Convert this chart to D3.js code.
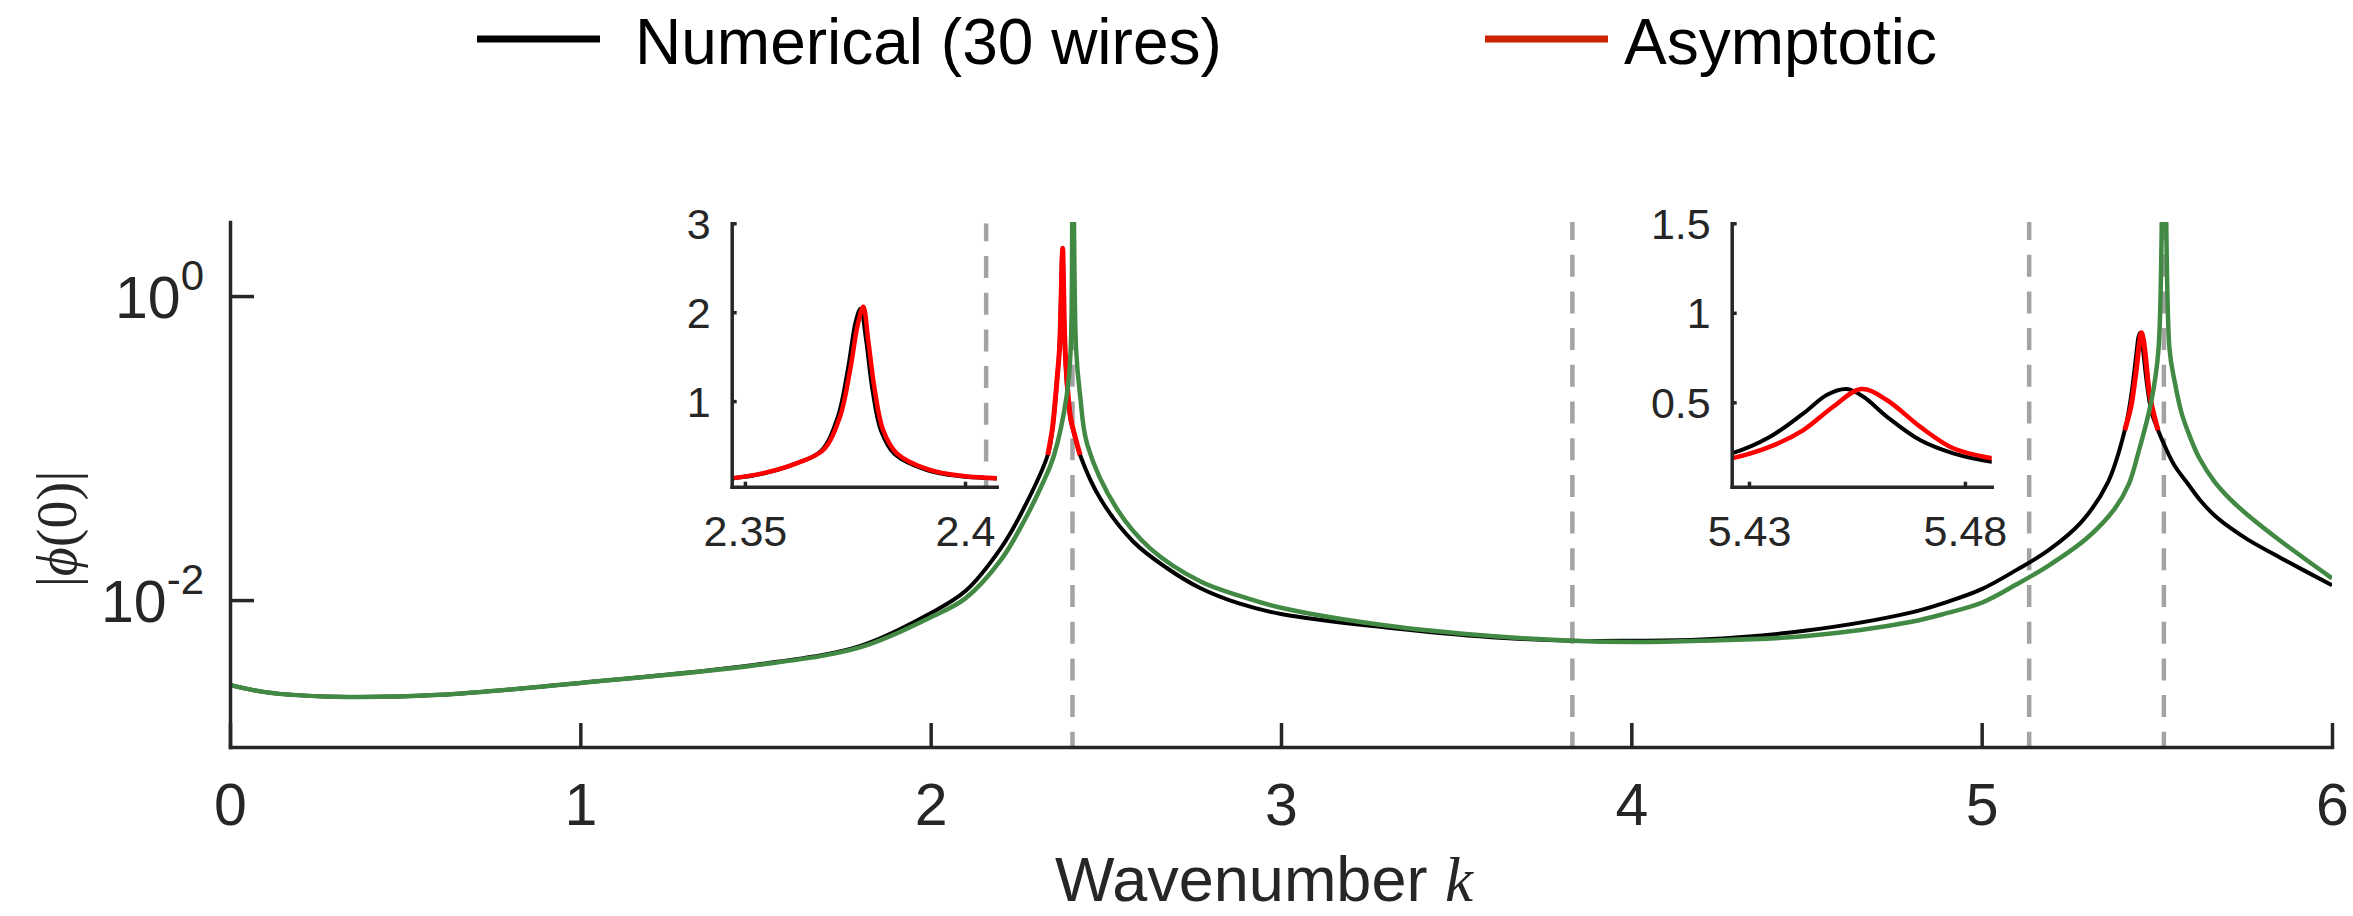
<!DOCTYPE html>
<html>
<head>
<meta charset="utf-8">
<script src="https://cdn.jsdelivr.net/npm/d3@7"></script>
<style>
  body { margin: 0; background: #fff; }
  svg { display: block; }
</style>
</head>
<body>
<div id="chart"></div>
<script>
// ---- data ----
var kTicks = [0, 1, 2, 3, 4, 5, 6];
var phiTicks = [1e-2, 1];
var phiTickExp = ['-2', '0'];

// dashed guides (Bessel zeros)
var zeroK = [2.4048, 3.8317, 5.1356, 5.5201];

// Numerical (30 wires)
var numK = [0, 0.1, 0.3, 0.6, 1.0, 1.5, 1.8, 2.0, 2.1, 2.2,
            2.2552, 2.3342, 2.347, 2.3542, 2.3612, 2.3673, 2.3711, 2.3734, 2.3752, 2.3763,
            2.3775, 2.379, 2.3809, 2.384, 2.3915, 2.399, 2.4072, 2.4265, 2.4836, 2.5787,
            2.674, 2.769, 2.88, 3.0, 3.3, 3.6, 3.83, 4.0, 4.2, 4.5, 4.8,
            4.9, 5.0, 5.1, 5.19, 5.285, 5.361, 5.4085, 5.426, 5.4349, 5.4426,
            5.448, 5.4526, 5.4565, 5.4619, 5.4696, 5.4773, 5.4862, 5.5035, 5.518, 5.55,
            5.589, 5.625, 5.665, 5.71, 5.761, 5.856, 6.0];
var numPhi = [0.00276, 0.00248, 0.00231, 0.00238, 0.00285, 0.00375, 0.0050, 0.0082, 0.0115, 0.0219,
              0.036, 0.09, 0.13, 0.185, 0.29, 0.44, 0.82, 1.36, 1.9, 2.04,
              1.7, 1.12, 0.67, 0.405, 0.222, 0.155, 0.13, 0.09, 0.0467, 0.0242,
              0.01625, 0.0120, 0.0095, 0.0081, 0.0066, 0.0057, 0.0054, 0.0054, 0.0055, 0.0063, 0.0083,
              0.0097, 0.0118, 0.0158, 0.0212, 0.0327, 0.060, 0.131, 0.215, 0.308, 0.438,
              0.541, 0.574, 0.531, 0.42, 0.289, 0.215, 0.168, 0.131, 0.109, 0.077,
              0.058, 0.045, 0.036, 0.0298, 0.0249, 0.0188, 0.0125];

// green curve (no legend entry)
var greenK = [0, 0.1, 0.3, 0.6, 1.0, 1.5, 1.8, 2.0, 2.1, 2.2,
              2.26, 2.3218, 2.3523, 2.3885, 2.3999, 2.4048, 2.415, 2.4265, 2.4473, 2.531,
              2.6264, 2.769, 2.88, 3.0, 3.3, 3.6, 3.83, 4.0, 4.2, 4.5, 4.8,
              4.9, 5.0, 5.1, 5.19, 5.30, 5.38, 5.42, 5.4465, 5.484, 5.505, 5.5201, 5.536,
              5.551, 5.57, 5.589, 5.62, 5.665, 5.71, 5.761, 5.856, 6.0];
var greenPhi = [0.00276, 0.00248, 0.00231, 0.00238, 0.00285, 0.00372, 0.0049, 0.0077, 0.0103, 0.0183,
                0.031, 0.060, 0.09, 0.223, 0.453, 60, 0.453, 0.223, 0.105, 0.040,
                0.0219, 0.0133, 0.0107, 0.0089, 0.0068, 0.0058, 0.0054, 0.0053, 0.0054, 0.0058, 0.0072,
                0.0082, 0.0096, 0.0127, 0.0168, 0.0255, 0.040, 0.058, 0.092, 0.2017, 0.453, 60, 0.453,
                0.273, 0.172, 0.128, 0.087, 0.060, 0.046, 0.036, 0.0242, 0.0139];

// Asymptotic, around the two resonances
var asy1K = [2.3342, 2.347, 2.3542, 2.3617, 2.3678, 2.3716, 2.3739, 2.3757, 2.3769,
             2.378, 2.3795, 2.3814, 2.3845, 2.392, 2.3996, 2.4072, 2.4265];
var asy1Phi = [0.09, 0.132, 0.19, 0.30, 0.45, 0.825, 1.35, 1.875, 2.06,
               1.69, 1.125, 0.675, 0.413, 0.225, 0.157, 0.132, 0.09];
var asy2K = [5.4085, 5.426, 5.4349, 5.4426, 5.4495, 5.456, 5.4619, 5.4696, 5.4773, 5.4862, 5.5035];
var asy2Phi = [0.131, 0.187, 0.252, 0.345, 0.475, 0.574, 0.513, 0.364, 0.243, 0.187, 0.131];

// inset ticks
var inset1KTicks = [2.35, 2.4];
var inset1PhiTicks = [1, 2, 3];
var inset2KTicks = [5.43, 5.48];
var inset2PhiTicks = [0.5, 1, 1.5];

var legendLabels = ['Numerical (30 wires)', 'Asymptotic'];

// ---- style ----
var axisFont = '"Liberation Sans", Arial, Helvetica, sans-serif';
var mathFont = '"Liberation Serif", "DejaVu Serif", "Times New Roman", serif';
var axisColor = '#262626';
var numColor = '#000000';
var asyColor = '#ff0000';
var greenColor = '#428a44';
var dashColor = '#a3a3a3';
var legendColors = [numColor, '#cc2200'];

var svg = d3.select('#chart').append('svg')
    .attr('width', 2353)
    .attr('height', 916)
    .style('background', '#fff');

var defs = svg.append('defs');

var x = d3.scaleLinear().domain([0, 6]).range([230, 2332]);
var y = d3.scaleLog().domain([1.08e-3, 3.07]).range([747, 222]);

function addClip(id, xs, ys) {
    defs.append('clipPath').attr('id', id).append('rect')
        .attr('x', xs.range()[0])
        .attr('y', ys.range()[1])
        .attr('width', xs.range()[1] - xs.range()[0])
        .attr('height', ys.range()[0] - ys.range()[1]);
}

function drawCurve(g, ks, vs, xs, ys, color, w) {
    var line = d3.line()
        .x(function(d){ return xs(d[0]); })
        .y(function(d){ return ys(d[1]); })
        .curve(d3.curveCatmullRom.alpha(0.5));
    g.append('path')
        .datum(d3.zip(ks, vs))
        .attr('d', line)
        .attr('fill', 'none')
        .attr('stroke', color)
        .attr('stroke-width', w)
        .attr('stroke-linejoin', 'round');
}

function drawDashes(g, ks, xs, ys) {
    g.selectAll('line.zero')
        .data(ks.filter(function(k){ return k >= xs.domain()[0] && k <= xs.domain()[1]; }))
        .enter().append('line')
        .attr('class', 'zero')
        .attr('x1', function(d){ return xs(d); })
        .attr('x2', function(d){ return xs(d); })
        .attr('y1', ys.range()[1])
        .attr('y2', ys.range()[0])
        .attr('stroke', dashColor)
        .attr('stroke-width', 4.5)
        .attr('stroke-dasharray', '22,14.7')
        .attr('stroke-dashoffset', 4);
}

function styleAxis(g, size, w) {
    g.attr('color', axisColor)
     .attr('font-family', axisFont)
     .attr('font-size', size);
    g.select('.domain').attr('stroke-width', w).attr('stroke-linecap', 'square');
    g.selectAll('.tick line').attr('stroke-width', w);
}

// ---- main plot ----
addClip('clip-main', x, y);
var plot = svg.append('g').attr('clip-path', 'url(#clip-main)');

drawDashes(plot, zeroK, x, y);
drawCurve(plot, numK, numPhi, x, y, numColor, 4);
drawCurve(plot, asy1K, asy1Phi, x, y, asyColor, 5);
drawCurve(plot, asy2K, asy2Phi, x, y, asyColor, 5);
drawCurve(plot, greenK, greenPhi, x, y, greenColor, 4.5);

var xAxisG = svg.append('g')
    .attr('transform', 'translate(0,' + y.range()[0] + ')')
    .call(d3.axisBottom(x).tickValues(kTicks).tickSizeInner(-24).tickSizeOuter(0).tickFormat(d3.format('d')));
styleAxis(xAxisG, 59, 3.5);
xAxisG.selectAll('.tick text').attr('y', 78).attr('dy', 0);

var yAxisG = svg.append('g')
    .attr('transform', 'translate(' + x.range()[0] + ',0)')
    .call(d3.axisLeft(y).tickValues(phiTicks).tickSizeInner(-24).tickSizeOuter(0).tickFormat(function(){ return ''; }));
styleAxis(yAxisG, 59, 3.5);

var yLab = svg.append('g').attr('font-family', axisFont).attr('fill', axisColor);
phiTicks.forEach(function(v, i){
    var t = yLab.append('text')
        .attr('x', 204)
        .attr('y', y(v) + 22)
        .attr('text-anchor', 'end');
    t.append('tspan').attr('font-size', 59).text('10');
    t.append('tspan').attr('font-size', 42).attr('dy', -28).text(phiTickExp[i]);
});

// axis titles
var xt = svg.append('text')
    .attr('x', 1264)
    .attr('y', 901)
    .attr('text-anchor', 'middle')
    .attr('font-size', 63)
    .attr('fill', axisColor);
xt.append('tspan').attr('font-family', axisFont).text('Wavenumber ');
xt.append('tspan').attr('font-family', mathFont).attr('font-style', 'italic').text('k');

var yt = svg.append('text')
    .attr('transform', 'translate(76,529) rotate(-90)')
    .attr('text-anchor', 'middle')
    .attr('font-family', mathFont)
    .attr('font-size', 56)
    .attr('fill', axisColor);
yt.append('tspan').text('|');
yt.append('tspan').attr('font-style', 'italic').text('\u03D5');
yt.append('tspan').text('(0)|');

// ---- insets ----
function drawInset(id, kDom, phiDom, box, kt, pt) {
    var ix = d3.scaleLinear().domain(kDom).range([box.x0, box.x1]);
    var iy = d3.scaleLinear().domain(phiDom).range([box.y1, box.y0]);
    addClip(id, ix, iy);

    svg.append('rect')
        .attr('x', box.x0).attr('y', box.y0)
        .attr('width', box.x1 - box.x0).attr('height', box.y1 - box.y0)
        .attr('fill', '#fff');

    var g = svg.append('g').attr('clip-path', 'url(#' + id + ')');
    drawDashes(g, zeroK, ix, iy);
    drawCurve(g, numK, numPhi, ix, iy, numColor, 4);
    drawCurve(g, asy1K, asy1Phi, ix, iy, asyColor, 4.5);
    drawCurve(g, asy2K, asy2Phi, ix, iy, asyColor, 4.5);

    var ax = svg.append('g')
        .attr('transform', 'translate(0,' + box.y1 + ')')
        .call(d3.axisBottom(ix).tickValues(kt).tickSizeInner(-5).tickSizeOuter(0).tickFormat(function(d){ return String(d); }));
    styleAxis(ax, 43, 3.5);
    ax.selectAll('.tick text').attr('y', 59.5).attr('dy', 0);

    var ay = svg.append('g')
        .attr('transform', 'translate(' + box.x0 + ',0)')
        .call(d3.axisLeft(iy).tickValues(pt).tickSizeInner(-5).tickSizeOuter(0).tickFormat(function(d){ return String(d); }));
    styleAxis(ay, 43, 3.5);
    ay.selectAll('.tick text').attr('x', -21).attr('dy', 15);
}

drawInset('clip-in1', [2.347, 2.4072], [0.037, 3],
    {x0: 731.7, x1: 996.7, y0: 223.3, y1: 486.7}, inset1KTicks, inset1PhiTicks);
drawInset('clip-in2', [5.426, 5.4862], [0.0285, 1.5],
    {x0: 1731.7, x1: 1991.7, y0: 223.3, y1: 486.7}, inset2KTicks, inset2PhiTicks);

// ---- legend ----
var legendLineX = [477, 1485];
var legendTextX = [635, 1624];
var legend = svg.append('g');
legendLabels.forEach(function(label, i){
    legend.append('line')
        .attr('x1', legendLineX[i]).attr('x2', legendLineX[i] + 123)
        .attr('y1', 39).attr('y2', 39)
        .attr('stroke', legendColors[i])
        .attr('stroke-width', 7);
    legend.append('text')
        .attr('x', legendTextX[i])
        .attr('y', 64)
        .attr('font-family', axisFont)
        .attr('font-size', 64)
        .attr('fill', '#000')
        .text(label);
});
</script>
</body>
</html>
